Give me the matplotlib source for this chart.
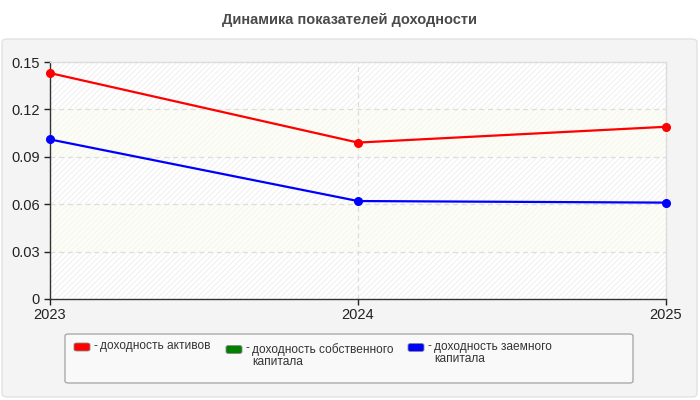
import matplotlib
matplotlib.use('Agg')
import matplotlib.pyplot as plt
import numpy as np
from matplotlib.patches import FancyBboxPatch

plt.rcParams['font.family'] = ['Liberation Sans', 'DejaVu Sans']
plt.rcParams['hatch.linewidth'] = 0.6

# data
years = [2023, 2024, 2025]
series_names = ['доходность активов', 'доходность собственного\nкапитала', 'доходность заемного\nкапитала']
series_colors = ['#ff0000', '#008000', '#0000ff']
roa = [0.143, 0.099, 0.109]
roe = [np.nan, np.nan, np.nan]   # not drawn in the reference
rod = [0.101, 0.062, 0.061]
y_ticks = [0, 0.03, 0.06, 0.09, 0.12, 0.15]
y_tick_labels = ['0', '0.03', '0.06', '0.09', '0.12', '0.15']
title = 'Динамика показателей доходности'

fig = plt.figure(figsize=(7, 4), dpi=100, facecolor='white')

# grey panel behind the chart
panel = FancyBboxPatch((2 / 700, 3 / 400), 695 / 700, 358 / 400,
                       boxstyle='round,pad=0,rounding_size=0.008',
                       transform=fig.transFigure, facecolor='#f4f4f4',
                       edgecolor='#e2e2e2', linewidth=1, zorder=-5)
fig.patches.append(panel)

fig.text(0.5, 0.95, title, ha='center', va='center', fontsize=10.5,
         fontweight='bold', color='#4a4a4a')

ax = fig.add_axes([50 / 700, 101 / 400, 616 / 700, 237 / 400])
ax.set_zorder(2)
ax.set_facecolor('white')

# alternating hatched bands
for i in range(len(y_ticks) - 1):
    if i % 2 == 0:
        fc, hc = 'white', '#ededed'
    else:
        fc, hc = '#fdfdf7', '#f5f5ee'
    ax.axhspan(y_ticks[i], y_ticks[i + 1], facecolor=fc, edgecolor=hc,
               hatch='//////', linewidth=0, zorder=0)

for yv in y_ticks[1:-1]:
    ax.axhline(yv, color='#dddddd', linestyle=(0, (4, 3)), linewidth=0.9, zorder=1)
ax.axvline(years[1], color='#dddddd', linestyle=(0, (4, 3)), linewidth=0.9, zorder=1)

for vals, col in zip([roa, roe, rod], series_colors):
    ax.plot(years, vals, color=col, linewidth=1.6, marker='o', markersize=5.5, zorder=3,
            clip_on=False)

ax.set_xlim(years[0], years[-1])
ax.set_ylim(y_ticks[0], y_ticks[-1])
ax.set_xticks(years)
ax.set_xticklabels([str(y) for y in years])
ax.set_yticks(y_ticks)
ax.set_yticklabels(y_tick_labels)
ax.tick_params(axis='both', labelsize=10.5, colors='#222222', length=4.5, width=1)
ax.tick_params(axis='x', pad=2)
ax.tick_params(axis='y', pad=3)

for s in ['left', 'bottom']:
    ax.spines[s].set_color('#333333')
    ax.spines[s].set_linewidth(1)
for s in ['top', 'right']:
    ax.spines[s].set_color('#dcdcdc')
    ax.spines[s].set_linewidth(1)

# legend box
leg = FancyBboxPatch((65 / 700, 17 / 400), 568 / 700, 49 / 400,
                     boxstyle='round,pad=0,rounding_size=0.005',
                     transform=fig.transFigure, facecolor='#f9f9f9',
                     edgecolor='#aaaaaa', linewidth=1, zorder=-1)
fig.patches.append(leg)

entry_x = [74, 226, 408]
entry_y = [347, 349.5, 347.5]
for name, col, ex, ey in zip(series_names, series_colors, entry_x, entry_y):
    sw = FancyBboxPatch((ex / 700, (400 - ey - 4) / 400), 16 / 700, 8 / 400,
                        boxstyle='round,pad=0,rounding_size=0.004',
                        transform=fig.transFigure, facecolor=col,
                        edgecolor='#888888', linewidth=0.6, zorder=1)
    fig.patches.append(sw)
    fig.text((ex + 20) / 700, (400 - ey + 1) / 400, '-', ha='left', va='center',
             fontsize=8.6, color='#333333')
    fig.text((ex + 26) / 700, (400 - ey + 6.5) / 400, name, ha='left', va='top',
             fontsize=8.6, color='#333333', linespacing=1.05)

fig.savefig('out.png', dpi=100, facecolor=fig.get_facecolor())
